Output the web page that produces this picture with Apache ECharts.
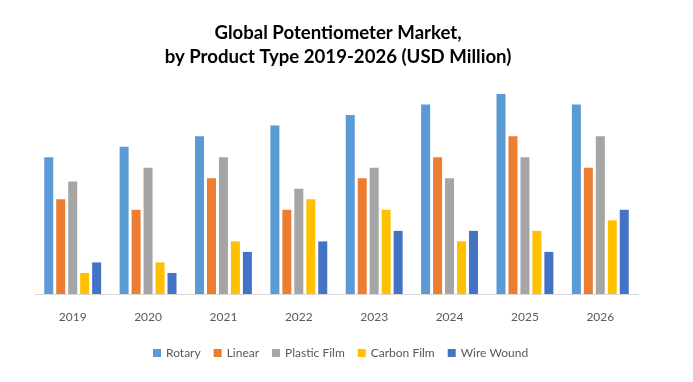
<!DOCTYPE html>
<html><head><meta charset="utf-8">
<script src="https://cdn.jsdelivr.net/npm/echarts@6/dist/echarts.min.js"></script>
<style>html,body{margin:0;padding:0;background:#fff}#c{width:693px;height:382px}</style>
</head><body><div id="c"></div>
<script>
const years = ['2019','2020','2021','2022','2023','2024','2025','2026'];
const rotary = [13, 14, 15, 16, 17, 18, 19, 18];
const linear = [9, 8, 11, 8, 11, 13, 15, 12];
const plasticFilm = [10.7, 12, 13, 10, 12, 11, 13, 15];
const carbonFilm = [2, 3, 5, 9, 8, 5, 6, 7];
const wireWound = [3, 2, 4, 5, 6, 6, 4, 8];
const seriesNames = ['Rotary','Linear','Plastic Film','Carbon Film','Wire Wound'];
const colors = ['#5B9BD5','#ED7D31','#A5A5A5','#FFC000','#4472C4'];
const dataSets = [rotary, linear, plasticFilm, carbonFilm, wireWound];
const font = 'Lato, "Open Sans", sans-serif';
const chart = echarts.init(document.getElementById('c'));
chart.setOption({
  animation: false,
  color: colors,
  title: {
    text: 'Global Potentiometer Market,\nby Product Type 2019-2026 (USD Million)',
    left: 333, top: 16, textAlign: 'center',
    textStyle: {fontFamily: font, fontWeight: 'bold', fontSize: 18.6, lineHeight: 24, color: '#000'}
  },
  legend: {
    bottom: 18, left: 148,
    itemWidth: 8, itemHeight: 8, itemGap: 13, icon: 'rect',
    textStyle: {fontFamily: font, fontSize: 12, color: '#595959'},
    data: seriesNames
  },
  grid: {left: 35, right: 55, top: 73, bottom: 88},
  xAxis: {
    type: 'category', data: years,
    axisLine: {lineStyle: {color: '#D9D9D9', width: 1}},
    axisTick: {show: false},
    axisLabel: {fontFamily: font, fontSize: 12, color: '#595959', margin: 17}
  },
  yAxis: {type: 'value', min: 0, max: 21, show: false, splitLine: {show: false}},
  series: seriesNames.map((n, i) => ({
    name: n, type: 'bar', data: dataSets[i], barWidth: 9, barGap: '33%'
  }))
});
</script></body></html>
